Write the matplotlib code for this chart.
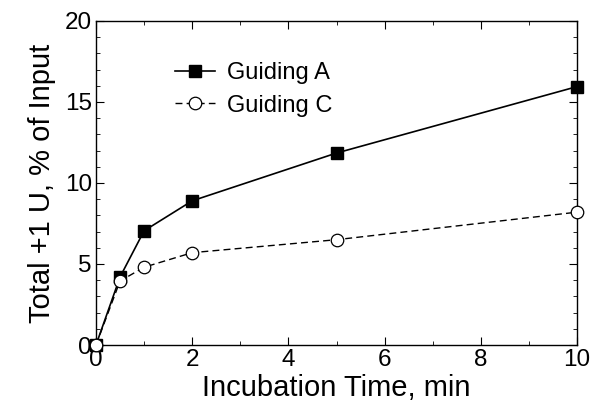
import matplotlib.pyplot as plt
from matplotlib.ticker import MultipleLocator

plt.rcParams['font.family'] = ['Liberation Sans', 'DejaVu Sans']

## data
time = [0, 0.5, 1, 2, 5, 10]
guiding_a = [0, 4.2, 7.05, 8.9, 11.85, 15.95]
guiding_c = [0, 3.95, 4.8, 5.7, 6.5, 8.2]

fig = plt.figure(figsize=(5.91, 4.17), dpi=100)
ax = fig.add_axes([96/591, 72/417, 481/591, 324/417])

ax.plot(time, guiding_a, color='black', lw=1.2, marker='s', ms=9,
        mfc='black', mec='black', label='Guiding A', zorder=3)
ax.plot(time, guiding_c, color='black', lw=1.0, ls=(0, (5, 3)), marker='o', ms=9,
        mfc='white', mec='black', mew=0.9, label='Guiding C', zorder=3)

ax.set_xlim(0, 10)
ax.set_ylim(0, 20)
ax.xaxis.set_major_locator(MultipleLocator(2))
ax.xaxis.set_minor_locator(MultipleLocator(1))
ax.yaxis.set_major_locator(MultipleLocator(5))
ax.yaxis.set_minor_locator(MultipleLocator(1))
ax.tick_params(which='both', direction='in', top=True, right=True, labelsize=17.5)
ax.tick_params(which='major', length=6, pad=3)
ax.tick_params(which='minor', length=3)
for s in ax.spines.values():
    s.set_linewidth(1.0)
for m in ax.get_lines():
    m.set_clip_on(False)

ax.set_xlabel('Incubation Time, min', fontsize=21, labelpad=2)
ax.set_ylabel('Total +1 U, % of Input', fontsize=21, labelpad=6)

leg = ax.legend(loc='upper left', bbox_to_anchor=(0.14, 0.91), frameon=False,
                fontsize=17, handlelength=1.7, handletextpad=0.5, labelspacing=0.45,
                borderpad=0)

plt.savefig('out.png', dpi=100)
